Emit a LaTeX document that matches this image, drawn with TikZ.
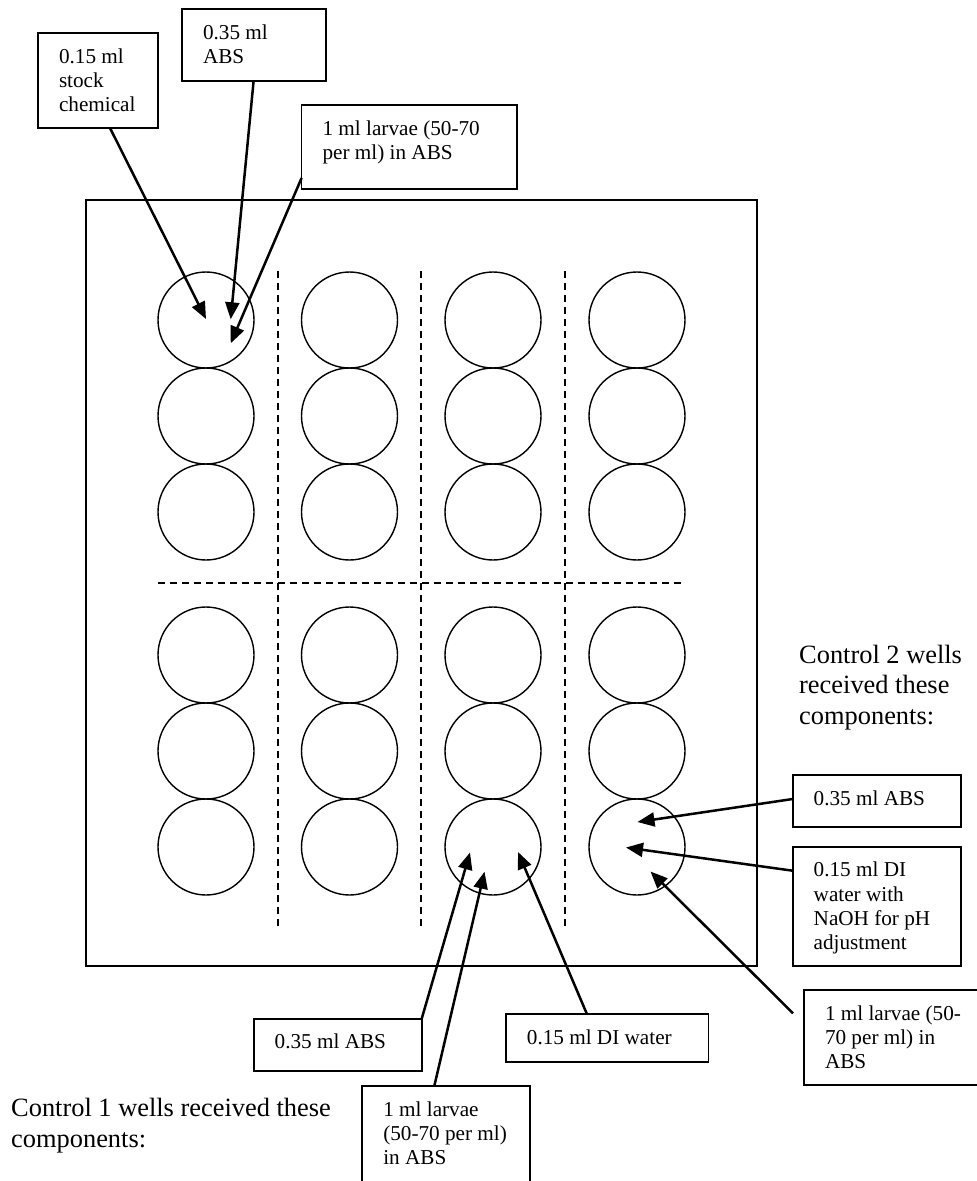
\documentclass[tikz,border=0pt]{standalone}
\usepackage{fontspec}
\setmainfont{Liberation Serif}
\usetikzlibrary{arrows.meta,calc}
\newcommand{\boxtxt}[3]{\parbox[t][#2][t]{#1}{\raggedright\leftskip=21pt\relax\rule{0pt}{30pt}#3}}
\newcommand{\lbltxt}[2]{\parbox[t]{#1}{\raggedright #2}}
\tikzset{
  lbl/.style={draw, line width=1.7pt, inner sep=0pt, outer sep=0pt, anchor=north west,
    font=\fontsize{21.2}{24.4}\selectfont},
  well/.style={draw, circle, line width=1.4pt, minimum size=96pt, inner sep=0pt, outer sep=0pt},
  arr/.style={line width=2.5pt, -{Triangle[length=17pt,width=14pt]}},
  divider/.style={line width=1.4pt, dash pattern=on 7pt off 5pt},
  big/.style={inner sep=0pt, anchor=base west, font=\fontsize{26.4}{30.5}\selectfont}
}
\begin{document}
\begin{tikzpicture}[x=1pt,y=-1pt]
\useasboundingbox (0,0) rectangle (977,1181);
% plate
\draw[line width=1.7pt] (86,200) rectangle (757,966);
% dividers
\foreach \xx in {278,421,565} \draw[divider] (\xx,271) -- (\xx,926);
\draw[divider] (158,583) -- (682,583);
% wells
\foreach \c/\xx in {1/206,2/349.5,3/493,4/637}
  \foreach \r/\yy in {1/320,2/416,3/512,4/655,5/751,6/847}
    \node[well] (w\r\c) at (\xx,\yy) {};
% top boxes
\node[lbl] (A) at (38,33) {\boxtxt{120pt}{95pt}{0.15 ml\\stock\\chemical}};
\node[lbl] (B) at (182,9) {\boxtxt{144pt}{72pt}{0.35 ml\\ABS}};
\node[lbl] (C) at (301.6,105) {\boxtxt{215.6pt}{84pt}{1 ml larvae (50-70\\per ml) in ABS}};
% bottom boxes
\node[lbl] (D) at (253.7,1018.7) {\boxtxt{168pt}{52pt}{0.35 ml ABS}};
\node[lbl] (E) at (362.3,1086) {\boxtxt{167.7pt}{97pt}{1 ml larvae\\(50-70 per ml)\\in ABS}};
\node[lbl] (F) at (505.9,1014) {\boxtxt{202.7pt}{48pt}{0.15 ml DI water}};
% right boxes
\node[lbl] (G) at (792.7,775) {\boxtxt{168.6pt}{52pt}{0.35 ml ABS}};
\node[lbl] (H) at (792.7,846.7) {\boxtxt{168.6pt}{119.3pt}{0.15 ml DI\\water with\\NaOH for pH\\adjustment}};
\node[lbl] (I) at (804,990) {\boxtxt{174pt}{95pt}{1 ml larvae (50-\\70 per ml) in\\ABS}};
% captions
\node[big] (ctl2) at (799,663) {\lbltxt{200pt}{Control 2 wells\\received these\\components:}};
\node[big] (ctl1) at (11,1116.7) {\lbltxt{340pt}{Control 1 wells received these\\components:}};
% arrows top
\draw[arr] ([xshift=72pt]A.south west) -- ([shift={(0pt,1pt)}]w11.center);
\draw[arr] ([xshift=71.6pt]B.south west) -- ([shift={(24.7pt,0.7pt)}]w11.center);
\draw[arr] ([yshift=11pt]C.south west) -- ([shift={(24.7pt,-23.3pt)}]w11.center);
% arrows bottom
\draw[arr] (D.north east) -- ([shift={(-23pt,-5.5pt)}]w63.center);
\draw[arr] ([xshift=72pt]E.north west) -- ([shift={(-8.5pt,-24.7pt)}]w63.center);
\draw[arr] ([xshift=81pt]F.north west) -- ([shift={(25pt,-5pt)}]w63.center);
% arrows right
\draw[arr] ([yshift=-24pt]G.north west) -- ([shift={(0.5pt,25pt)}]w64.center);
\draw[arr] ([yshift=-24pt]H.north west) -- ([shift={(-11pt,-0.5pt)}]w64.center);
\draw[arr] ([shift={(-11pt,-23.3pt)}]I.north west) -- ([shift={(13.5pt,-24.5pt)}]w64.center);
\end{tikzpicture}
\end{document}
